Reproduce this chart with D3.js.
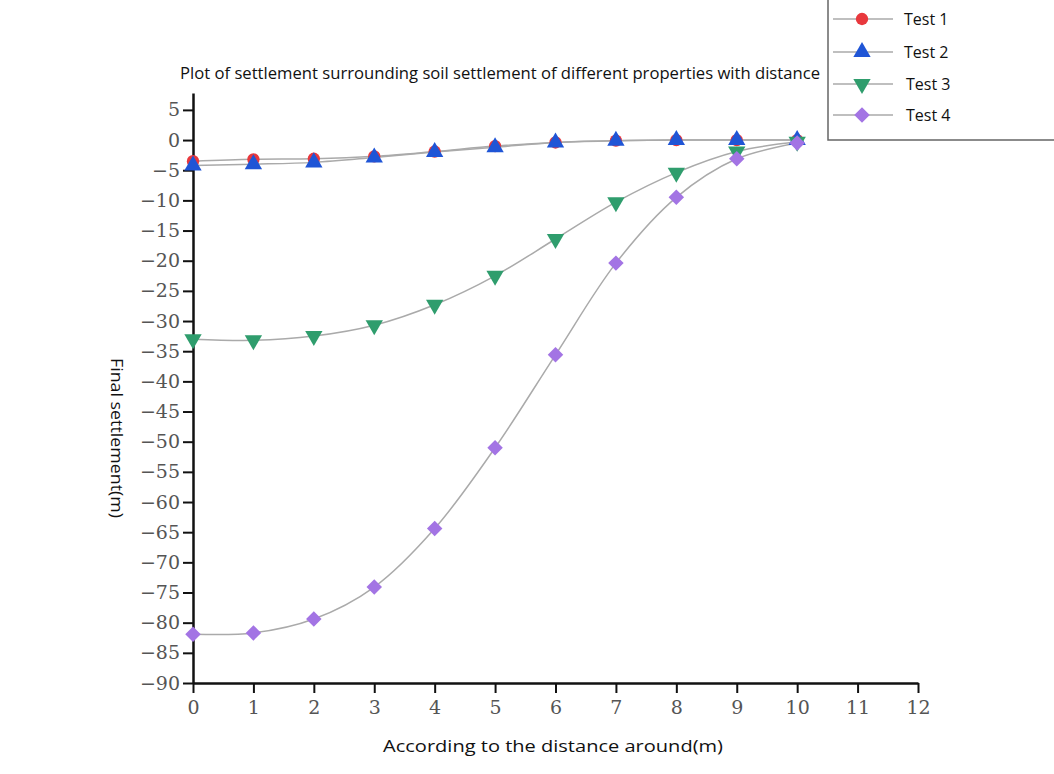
<!DOCTYPE html>
<html><head><meta charset="utf-8">
<script src="https://cdn.jsdelivr.net/npm/d3@7"></script>
<style>body{margin:0;background:#fff}svg{display:block}</style>
</head><body>
<svg id="c" width="1054" height="774"></svg>
<script>
const distance = [0,1,2,3,4,5,6,7,8,9,10];
const test1 = [-3.5,-3.2,-3.1,-2.7,-1.9,-1.0,-0.4,-0.1,0,0,0];
const test2 = [-4.2,-4.0,-3.7,-2.9,-2.0,-1.2,-0.4,-0.1,0,0,0];
const test3 = [-33.0,-33.2,-32.5,-30.7,-27.3,-22.5,-16.4,-10.3,-5.4,-1.9,-0.3];
const test4 = [-81.9,-81.7,-79.4,-74.1,-64.4,-51.0,-35.6,-20.4,-9.5,-3.1,-0.5];
const seriesNames = ["Test 1","Test 2","Test 3","Test 4"];
const xTicks = [0,1,2,3,4,5,6,7,8,9,10,11,12];
const yTicks = [5,0,-5,-10,-15,-20,-25,-30,-35,-40,-45,-50,-55,-60,-65,-70,-75,-80,-85,-90];
const titleText = "Plot of settlement surrounding soil settlement of different properties with distance";
const xLabel = "According to the distance around(m)";
const yLabel = "Final settlement(m)";

const series = [
  {name: seriesNames[0], values: test1, color: "#e8383d", symbol: d3.symbolCircle, rot: 0, size: 120},
  {name: seriesNames[1], values: test2, color: "#1f55d6", symbol: d3.symbolTriangle, rot: 0, size: 130},
  {name: seriesNames[2], values: test3, color: "#2f9d6d", symbol: d3.symbolTriangle, rot: 180, size: 130},
  {name: seriesNames[3], values: test4, color: "#a374e4", symbol: d3.symbolSquare, rot: 45, size: 120}
];

const svg = d3.select("#c");
const x = d3.scaleLinear().domain([0,12]).range([193,918]);
const y = d3.scaleLinear().domain([-90,7.8]).range([683,93]);

const fmt = d => d < 0 ? "\u2212" + Math.abs(d) : String(d);
const font = "'Open Sans', 'Noto Sans', sans-serif";

// X axis
const gx = svg.append("g").attr("transform", `translate(0,${y(-90)})`);
gx.call(d3.axisBottom(x).tickValues(d3.range(0,12.01,0.5)).tickSize(5).tickFormat(""))
  .call(g => g.select(".domain").remove());
gx.call(d3.axisBottom(x).tickValues(xTicks).tickSize(10).tickSizeOuter(0).tickFormat(fmt).tickPadding(8))
  .call(g => g.selectAll("text").attr("font-family","'DejaVu Serif', 'Liberation Serif', serif").attr("font-size",19).attr("fill","#555"));
gx.selectAll("line").attr("stroke","#111").attr("stroke-width",2);
gx.selectAll(".domain").attr("stroke","#111").attr("stroke-width",2.5);

// Y axis
const gy = svg.append("g").attr("transform", `translate(${x(0)},0)`);
gy.call(d3.axisLeft(y).tickValues(d3.range(-90,7.6,2.5)).tickSize(5).tickFormat(""))
  .call(g => g.select(".domain").remove());
gy.call(d3.axisLeft(y).tickValues(yTicks).tickSize(10).tickSizeOuter(0).tickFormat(fmt).tickPadding(3))
  .call(g => g.selectAll("text").attr("font-family","'DejaVu Serif', 'Liberation Serif', serif").attr("font-size",19).attr("fill","#555"));
gy.selectAll("line").attr("stroke","#111").attr("stroke-width",2);
gy.selectAll(".domain").attr("stroke","#111").attr("stroke-width",2.5);

// Lines
const line = d3.line().x((d,i) => x(distance[i])).y(d => y(d)).curve(d3.curveCatmullRom.alpha(0.5));
series.forEach(s => {
  svg.append("path").datum(s.values).attr("d", line)
    .attr("fill","none").attr("stroke","#aaa").attr("stroke-width",1.5);
});
series.forEach(s => {
  svg.append("g").selectAll("path").data(s.values).join("path")
    .attr("d", d3.symbol().type(s.symbol).size(s.size))
    .attr("transform", (d,i) => `translate(${x(distance[i])},${y(d)}) rotate(${s.rot})`)
    .attr("fill", s.color);
});

// Title
svg.append("text").attr("x",500).attr("y",79).attr("text-anchor","middle")
  .attr("font-family",font).attr("font-size",16).attr("fill","#111")
  .attr("textLength",640).attr("lengthAdjust","spacingAndGlyphs")
  .text(titleText);

// Axis labels
svg.append("text").attr("x",553).attr("y",752).attr("text-anchor","middle")
  .attr("font-family",font).attr("font-size",17).attr("fill","#111")
  .attr("textLength",340).attr("lengthAdjust","spacingAndGlyphs")
  .text(xLabel);
svg.append("text").attr("transform","translate(111,438) rotate(90)").attr("text-anchor","middle")
  .attr("font-family",font).attr("font-size",17).attr("fill","#111")
  .attr("textLength",160).attr("lengthAdjust","spacingAndGlyphs")
  .text(yLabel);

// Legend
const lg = svg.append("g");
lg.append("path").attr("d","M828,0 V140 H1054").attr("fill","none").attr("stroke","#666").attr("stroke-width",1.5);
const ly = [19,52,84,115];
series.forEach((s,i) => {
  lg.append("line").attr("x1",833).attr("x2",893).attr("y1",ly[i]).attr("y2",ly[i]).attr("stroke","#aaa").attr("stroke-width",1.5);
  lg.append("path").attr("d", d3.symbol().type(s.symbol).size(s.size))
    .attr("transform", `translate(862,${ly[i]}) rotate(${s.rot})`).attr("fill", s.color);
  lg.append("text").attr("x", i < 2 ? 904 : 906).attr("y", ly[i]+6)
    .attr("font-family",font).attr("font-size",16).attr("fill","#111")
    .text(s.name);
});
</script>
</body></html>
